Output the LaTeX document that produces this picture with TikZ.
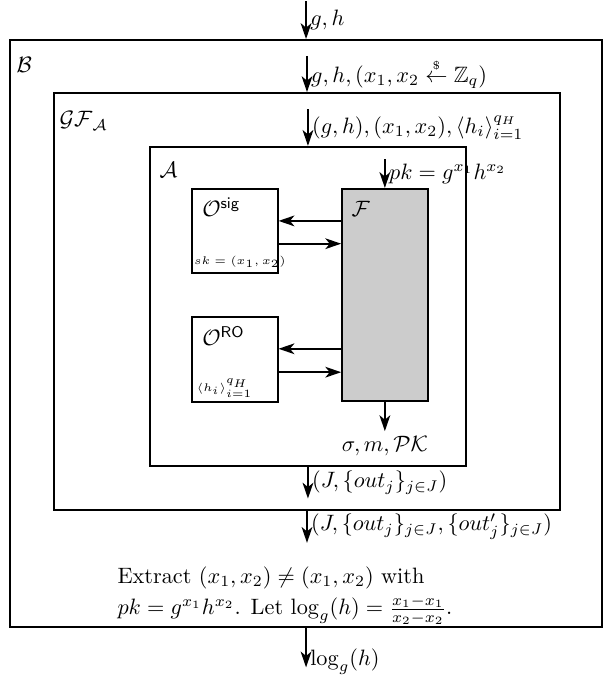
\documentclass[tikz,border=0pt]{standalone}
\usepackage{amsmath,amssymb}
\usetikzlibrary{arrows.meta,positioning,calc}

\begin{document}
\begin{tikzpicture}[
    frame/.style={rectangle, draw, line width=0.9pt, inner sep=0pt},
    oracle/.style={frame, minimum width=1.35cm, minimum height=1.33cm},
    arr/.style={-{Stealth[length=2.5mm, width=1.7mm, inset=0.7mm]}, line width=0.8pt},
    tag/.style={anchor=north west, inner sep=0pt},
    msg/.style={anchor=west, inner sep=1.5pt},
    tiny/.style={anchor=south west, inner sep=0pt, font=\tiny}
]
    \useasboundingbox (0,0) rectangle (9.69,10.79);

    % ---- boxes ----
    \node[frame, minimum width=9.35cm, minimum height=9.275cm] (B) at (4.835, 5.52) {};
    \node[frame, minimum width=8.0cm, minimum height=6.59cm] (GF) at (4.85, 6.025) {};
    \node[frame, minimum width=4.99cm, minimum height=5.04cm] (A) at (4.865, 5.95) {};
    \node[frame, fill=black!20, minimum width=1.35cm, minimum height=3.35cm] (F) at (6.08, 6.13) {};
    \node[oracle] (sig) at (3.71, 7.14) {};
    \node[oracle] (RO) at (3.71, 5.11) {};

    % ---- box labels ----
    \node[tag] (Blab) at ([shift={(0.11,-0.28)}]B.north west) {$\mathcal{B}$};
    \node[tag] (GFlab) at ([shift={(0.1,-0.3)}]GF.north west) {$\mathcal{GF}_{\mathcal{A}}$};
    \node[tag] (Alab) at ([shift={(0.16,-0.25)}]A.north west) {$\mathcal{A}$};
    \node[tag] (Flab) at ([shift={(0.16,-0.2)}]F.north west) {$\mathcal{F}$};
    \node[tag] (siglab) at ([shift={(0.17,-0.15)}]sig.north west) {$\mathcal{O}^{\mathsf{sig}}$};
    \node[tiny] (sk) at ([shift={(0.04,0.1)}]sig.south west) {$sk=(x_1,x_2)$};
    \node[tag] (ROlab) at ([shift={(0.17,-0.15)}]RO.north west) {$\mathcal{O}^{\mathsf{RO}}$};
    \node[tiny] (hi) at ([shift={(0.08,0.08)}]RO.south west) {$\langle h_i\rangle_{i=1}^{q_H}$};

    % ---- inputs ----
    \coordinate (Bin) at ($(B.north)+(0,0.6)$);
    \coordinate (GFin) at ($(GF.north)+(0,0.57)$);
    \coordinate (Ain) at ($(A.north)+(0,0.58)$);
    \coordinate (Fin) at ($(F.north)+(0,0.45)$);
    \draw[arr] (Bin) -- (B.north) node[msg, midway] (gh) {$g, h$};
    \draw[arr] (GFin) -- (GF.north) node[msg, midway] (ghx)
        {$g, h, (x_1, x_2 \mathrel{\overset{\scriptscriptstyle\$}{\leftarrow}} \mathbb{Z}_q)$};
    \draw[arr] (Ain) -- (A.north) node[msg, midway] (ghxh)
        {$(g, h), (x_1, x_2), \langle h_i\rangle_{i=1}^{q_H}$};
    \draw[arr] (Fin) -- (F.north) node[msg, midway] (pk) {$pk = g^{x_1}h^{x_2}$};

    % ---- oracle queries ----
    \draw[arr] ([yshift=0.16cm]F.west |- sig.east) -- ([yshift=0.16cm]sig.east);
    \draw[arr] ([yshift=-0.2cm]sig.east) -- ([yshift=-0.2cm]F.west |- sig.east);
    \draw[arr] ([yshift=0.17cm]F.west |- RO.east) -- ([yshift=0.17cm]RO.east);
    \draw[arr] ([yshift=-0.2cm]RO.east) -- ([yshift=-0.2cm]F.west |- RO.east);

    % ---- outputs ----
    \coordinate (Fout) at ($(F.south)+(0,-0.46)$);
    \coordinate (Aout) at ($(A.south)+(0,-0.5)$);
    \coordinate (GFout) at ($(GF.south)+(0,-0.5)$);
    \coordinate (Bout) at ($(B.south)+(0,-0.62)$);
    \draw[arr] (F.south) -- (Fout) node[below, inner sep=2pt] (sig_out) {$\sigma, m, \mathcal{PK}$};
    \draw[arr] (A.south) -- (Aout) node[msg, midway] (outA) {$(J, \{out_j\}_{j\in J})$};
    \draw[arr] (GF.south) -- (GFout) node[msg, midway] (outGF)
        {$(J, \{out_j\}_{j\in J}, \{out'_j\}_{j\in J})$};
    \draw[arr] (B.south) -- (Bout) node[msg, pos=0.85] (dlog) {$\log_g(h)$};

    % ---- extraction ----
    \node[anchor=west, align=left, inner sep=0pt] (extract) at (1.85, 1.38)
        {Extract $(x_1, x_2) \neq (x_1, x_2)$ with\\[2pt]
         $pk = g^{x_1}h^{x_2}$. Let $\log_g(h) = \frac{x_1-x_1}{x_2-x_2}$.};
\end{tikzpicture}
\end{document}
